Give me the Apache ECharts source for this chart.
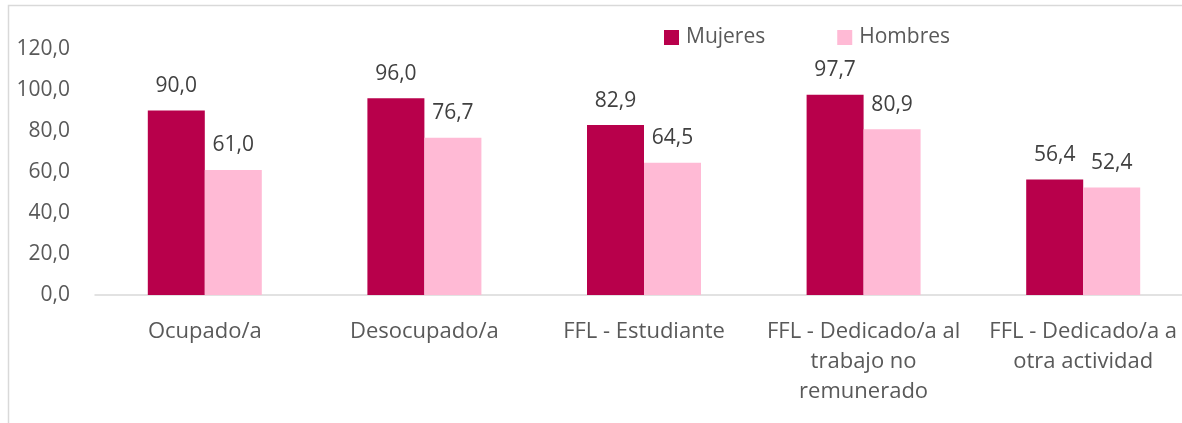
<!DOCTYPE html>
<html>
<head>
<meta charset="utf-8">
<script src="https://cdn.jsdelivr.net/npm/echarts@6/dist/echarts.min.js"></script>
<style>
  html, body { margin: 0; padding: 0; background: #fff; overflow: hidden; }
  /* plot runs a little past the right edge of the window, like the original */
  #chart { width: 1193px; height: 423px; }
</style>
</head>
<body>
<div id="chart"></div>
<script>
const categories = [
  "Ocupado/a",
  "Desocupado/a",
  "FFL - Estudiante",
  "FFL - Dedicado/a al\ntrabajo no\nremunerado",
  "FFL - Dedicado/a a\notra actividad",
];
const mujeres = [90.0, 96.0, 82.9, 97.7, 56.4];
const hombres = [61.0, 76.7, 64.5, 80.9, 52.4];
const yTicks = [0, 20, 40, 60, 80, 100, 120];

const fmt = (v) => v.toFixed(1).replace(".", ",");
const font = "'Open Sans', 'Noto Sans', sans-serif";

const chart = echarts.init(document.getElementById("chart"));

// data labels on top of each bar
function barLabel() {
  return {
    show: true,
    position: "top",
    distance: 14,
    fontSize: 21,
    color: "#404040",
    fontFamily: font,
    formatter: (p) => fmt(p.value),
  };
}

chart.setOption({
  animation: false,
  textStyle: { fontFamily: font },
  graphic: [
    {
      type: "rect",
      shape: { x: 8.5, y: 5.5, width: 1300, height: 600 },
      style: { fill: "none", stroke: "#d9d9d9", lineWidth: 1.5 },
      silent: true,
    },
  ],
  legend: {
    left: 659,
    top: 22,
    itemWidth: 15,
    itemHeight: 15,
    itemGap: 72,
    icon: "rect",
    textStyle: { fontSize: 21, color: "#595959", fontFamily: font, padding: [0, 0, 0, 2] },
    data: ["Mujeres", "Hombres"],
  },
  grid: { left: 95, right: 0, top: 49, bottom: 128, containLabel: false },
  xAxis: {
    type: "category",
    data: categories,
    axisLine: { lineStyle: { color: "#d9d9d9", width: 1.5 } },
    axisTick: { show: false },
    axisLabel: {
      interval: 0,
      margin: 22,
      fontSize: 22,
      lineHeight: 30,
      color: "#595959",
      fontFamily: font,
    },
  },
  yAxis: {
    type: "value",
    min: yTicks[0],
    max: yTicks[yTicks.length - 1],
    interval: 20,
    splitLine: { show: false },
    axisLine: { show: false },
    axisTick: { show: false },
    axisLabel: {
      margin: 25,
      fontSize: 21,
      color: "#595959",
      fontFamily: font,
      formatter: (v) => fmt(v),
    },
  },
  series: [
    {
      name: "Mujeres",
      type: "bar",
      data: mujeres,
      barWidth: 57,
      barGap: "0%",
      itemStyle: { color: "#b8004b" },
      label: barLabel(),
    },
    {
      name: "Hombres",
      type: "bar",
      data: hombres,
      barWidth: 57,
      barGap: "0%",
      itemStyle: { color: "#ffbad5" },
      label: barLabel(),
    },
  ],
});
</script>
</body>
</html>
